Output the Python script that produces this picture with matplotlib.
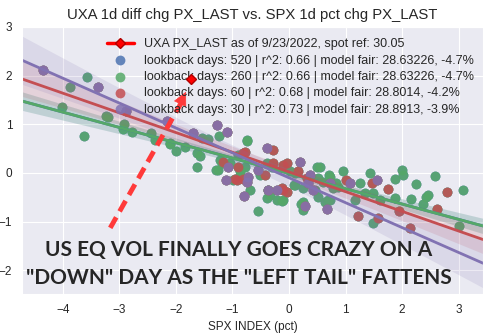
import matplotlib
matplotlib.use("Agg")
import matplotlib.pyplot as plt
import numpy as np
import seaborn as sns

sns.set_style("darkgrid")
plt.rcParams['font.family'] = ['Liberation Sans', 'DejaVu Sans']

# SPX 1d pct chg (x) vs UXA 1d diff chg (y)
# last 30 sessions
x_30 = [-4.34, -3.37, -2.88, -2.16, -1.69, -1.28, -1.10, -1.11, -0.79, -0.72,
        -1.07, -0.75, -0.39, 0.19, 0.34, 0.43, -0.22, 0.28, 0.68, 0.37,
        0.72, 1.08, 1.55, -0.37, -0.55]
y_30 = [2.12, 1.77, 1.28, 1.07, 0.82, 0.99, 0.84, -0.14, -0.47, -0.08,
        0.13, -0.18, 0.51, 0.23, -0.21, -0.35, -0.35, -0.68, -0.75, -0.04,
        -0.21, -0.21, -0.14, -0.35, 0.05]
# sessions 31-60
x_60 = [-1.17, -0.82, -0.91, -0.92, -0.78, -0.95, -0.81, -0.42, -0.28, -0.28,
        -0.04, -0.10, 0.16, 0.31, -0.10, -0.04, -0.13, 1.01, 1.46, 1.75,
        2.79, 1.22, 1.58, 1.94, 2.62, 2.14]
y_60 = [0.23, 0.41, 0.13, -0.14, 0.44, -0.12, -0.12, -0.04, 0.47, 0.20,
        0.20, 0.16, 0.03, -0.11, -0.35, -0.39, -0.32, -0.14, -0.21, -0.34,
        -0.39, -0.89, -0.93, -0.78, -0.75, -1.13]
# sessions 61-260
x_260 = [-3.57, -3.87, -4.02, -3.63, -3.23, -3.20, -2.92, -2.93, -2.78, -2.44,
         -2.37, -2.11, -2.00, -2.10, -1.84, -1.63, -1.58, -1.63, -1.54, -1.43,
         -1.24, -1.22, -1.19, -1.04, -0.75, -1.25, -0.99, -0.87, -0.74, -0.90,
         -1.29, -0.78, -0.87, -0.52, -0.55, -0.69, -0.39, -0.30, 0.02, 0.11,
         0.49, 0.52, 0.11, 0.25, 0.61, -0.37, -0.34, -0.10, -0.22, 0.24,
         0.64, 0.25, 0.22, -0.13, -0.39, 0.08, 0.46, 0.52, 0.78, 0.72,
         0.71, 0.55, 0.72, 0.96, 0.84, 0.87, 1.25, 1.43, 1.34, 1.49,
         1.87, 1.99, 2.02, 2.24, 2.58, 3.07, 1.17, 1.61, 1.87, 2.15,
         2.42, 2.46, 2.37, 0.69, 1.49, 3.01]
y_260 = [1.98, 1.77, 1.35, 0.76, 1.18, 1.15, 1.00, 0.91, 0.85, 0.82,
         0.68, 0.60, 0.45, 0.62, 0.54, 0.41, 0.34, 0.13, 0.72, 0.70,
         0.75, 0.27, 0.20, 0.20, 0.68, 0.06, -0.14, -0.04, 0.66, 0.37,
         0.06, 0.13, 0.03, -0.04, -0.78, -0.36, 0.20, 0.13, 0.03, 0.00,
         0.13, -0.11, -0.25, -0.32, -0.18, -0.35, -0.45, -0.56, -0.56, -0.59,
         -0.59, -0.76, -0.64, -0.57, -0.52, -0.25, -0.35, -0.49, -0.32, -0.56,
         -0.04, 0.13, -0.08, 0.03, -0.21, -0.28, -0.20, -0.01, -0.42, -0.42,
         -0.13, 0.06, -0.04, -0.23, -0.06, -0.35, -0.56, -0.56, -0.52, -0.54,
         -0.49, -0.45, -0.63, -0.56, -1.02, -1.09]

spot_x = -1.73
spot_y = 1.94

labels = ["lookback days: 520 | r^2: 0.66 | model fair: 28.63226, -4.7%",
          "lookback days: 260 | r^2: 0.66 | model fair: 28.63226, -4.7%",
          "lookback days: 60 | r^2: 0.68 | model fair: 28.8014, -4.2%",
          "lookback days: 30 | r^2: 0.73 | model fair: 28.8913, -3.9%"]
spot_label = "UXA PX_LAST as of 9/23/2022, spot ref: 30.05"
colors = ["#4C72B0", "#55A868", "#C44E52", "#8172B2"]

# fitted regression per lookback (520, 260, 60, 30)
fit_slope = [-0.315, -0.315, -0.405, -0.512]
fit_icpt = [-0.01, -0.01, 0.02, -0.10]

xs_30 = np.array(x_30)
ys_30 = np.array(y_30)
xs_60 = np.concatenate([xs_30, x_60])
ys_60 = np.concatenate([ys_30, y_60])
xs_260 = np.concatenate([xs_60, x_260])
ys_260 = np.concatenate([ys_60, y_260])
# only 260 sessions of history, so the 520 window is the same set
series = [(xs_260, ys_260), (xs_260, ys_260), (xs_60, ys_60), (xs_30, ys_30)]

fig, ax = plt.subplots(figsize=(5, 3.33), dpi=100)
fig.subplots_adjust(left=0.044, right=0.966, top=0.919, bottom=0.117)
xlim = (-4.72, 3.43)
ax.set_xlim(xlim)
ax.set_ylim(-2.49, 3.0)

spot, = ax.plot([spot_x], [spot_y], '-D', color='red', mec='#b00000', ms=5,
                lw=2.5, zorder=6, label=spot_label)

grid = np.linspace(xlim[0], xlim[1], 100)
handles = [spot]
for (xs, ys), b, a, c, lab in zip(series, fit_slope, fit_icpt, colors, labels):
    n = len(xs)
    fit = a + b * grid
    resid = ys - (a + b * xs)
    s = np.sqrt(np.sum(resid ** 2) / (n - 2))
    sxx = np.sum((xs - xs.mean()) ** 2)
    half = 2.0 * s * np.sqrt(1.0 / n + (grid - xs.mean()) ** 2 / sxx)
    h = ax.scatter(xs, ys, s=50, color=c, alpha=0.85, linewidths=0, label=lab)
    ax.plot(grid, fit, color=c, lw=2)
    ax.fill_between(grid, fit - half, fit + half, color=c, alpha=0.15, lw=0)
    handles.append(h)

# dashed arrow pointing at today's print
ax.plot([-3.16, -1.9], [-1.13, 1.45], color='#ff3a3a', lw=3.5,
        dashes=(2.5, 1.4), solid_capstyle='butt', zorder=5)
ax.annotate('', xy=(-1.80, 1.72), xytext=(-1.95, 1.36),
            arrowprops=dict(arrowstyle='-|>,head_length=0.9,head_width=0.45',
                            color='#ff3a3a', lw=0.5), zorder=5)

ax.legend(handles=handles, loc='upper right', frameon=False, fontsize=9,
          bbox_to_anchor=(1.005, 1.0), handlelength=2.2, labelspacing=0.35)
ax.set_title("UXA 1d diff chg PX_LAST vs. SPX 1d pct chg PX_LAST", fontsize=10.7)
ax.set_xlabel("SPX INDEX (pct)", fontsize=8.5)
ax.tick_params(labelsize=8.5)

fig.text(0.477, 0.206,
         'US EQ VOL FINALLY GOES CRAZY ON A\n"DOWN" DAY AS THE "LEFT TAIL" FATTENS',
         ha='center', va='center', multialignment='center', fontsize=15,
         fontweight='bold', family=['Lato', 'DejaVu Sans'], linespacing=1.5)

fig.savefig("out.png", dpi=100)
